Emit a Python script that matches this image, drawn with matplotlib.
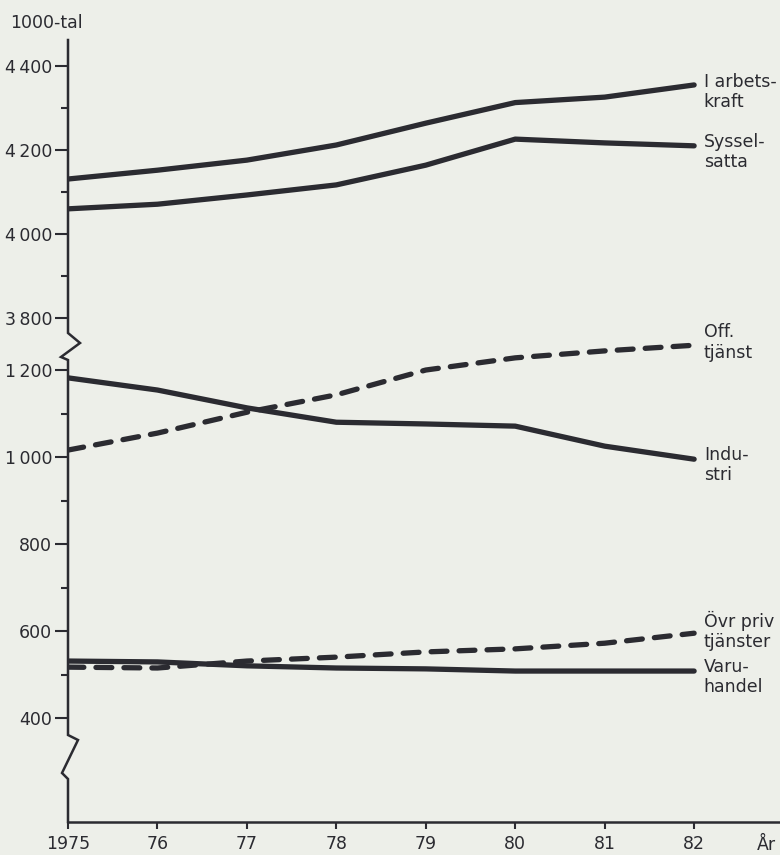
import numpy as np
import matplotlib
matplotlib.use("Agg")
import matplotlib.pyplot as plt

# ---- data (1000-tal) ----
years = [1975, 1976, 1977, 1978, 1979, 1980, 1981, 1982]
year_labels = ["1975", "76", "77", "78", "79", "80", "81", "82"]
arbetskraft = [4131, 4152, 4176, 4212, 4264, 4313, 4326, 4355]
sysselsatta = [4060, 4071, 4093, 4117, 4164, 4226, 4217, 4210]
off_tjanst = [1016, 1055, 1103, 1143, 1200, 1228, 1244, 1257]
industri = [1182, 1154, 1113, 1080, 1076, 1071, 1025, 995]
ovr_priv = [517, 515, 531, 540, 552, 559, 572, 595]
varuhandel = [531, 529, 520, 515, 513, 508, 508, 508]

ytick_major = [400, 600, 800, 1000, 1200, 3800, 4000, 4200, 4400]
ytick_labels = ["400", "600", "800", "1\u2009000", "1\u2009200",
                "3\u2009800", "4\u2009000", "4\u2009200", "4\u2009400"]
ytick_minor = [500, 700, 900, 1100, 3900, 4100, 4300]

BG = "#edefe9"
INK = "#2b2b31"
plt.rcParams["font.family"] = ["DejaVu Sans"]

# broken y-scale: linear lower part, compressed gap, linear upper part
XP = [-1e4, 1270, 3800, 1e4]
FP = [-1e4, 1270, 1319.5, 1319.5 + (1e4 - 3800) * 0.9655]


def fwd(v):
    return np.interp(v, XP, FP)


def inv(f):
    return np.interp(f, FP, XP)


fig = plt.figure(figsize=(7.8, 8.55), dpi=100, facecolor=BG)
L = 68 / 780
B = (855 - 822) / 855
T = (855 - 40) / 855
ax = fig.add_axes([L, B, 1 - L, T - B])
ax.set_facecolor(BG)
ax.patch.set_alpha(0)

ax.set_yscale("function", functions=(fwd, inv))
ax.set_ylim(161, 4462)
ax.set_xlim(1975, 1982.96)

solid = dict(color=INK, lw=3.8, solid_capstyle="round", solid_joinstyle="round")
dashed = dict(color=INK, lw=3.8, linestyle=(0, (3.0, 2.3)), dash_capstyle="round")

ax.plot(years, arbetskraft, **solid)
ax.plot(years, sysselsatta, **solid)
ax.plot(years, off_tjanst, **dashed)
ax.plot(years, industri, **solid)
ax.plot(years, ovr_priv, **dashed)
ax.plot(years, varuhandel, **solid)

# series labels at the right end
labels = [
    ("I arbets-\nkraft", arbetskraft[-1], -5),
    ("Syssel-\nsatta", sysselsatta[-1], -4.3),
    ("Off.\ntjänst", off_tjanst[-1], 2),
    ("Indu-\nstri", industri[-1], -4.3),
    ("Övr priv\ntjänster", ovr_priv[-1], 1.5),
    ("Varu-\nhandel", varuhandel[-1], -4.3),
]
for txt, val, dy in labels:
    ax.annotate(txt, xy=(years[-1], val), xytext=(7, dy),
                textcoords="offset points", ha="left", va="center",
                fontsize=12.5, color=INK, linespacing=1.15,
                annotation_clip=False)

# axes styling
for s in ["top", "right", "left"]:
    ax.spines[s].set_visible(False)
ax.spines["bottom"].set_color(INK)
ax.spines["bottom"].set_linewidth(1.8)

ax.set_yticks(ytick_major, ytick_labels)
ax.set_yticks(ytick_minor, minor=True)
ax.set_xticks(years, year_labels)
ax.tick_params(axis="y", which="major", direction="out", length=9.5, width=1.5,
               pad=2, labelsize=12.5, colors=INK)
ax.tick_params(axis="y", which="minor", direction="out", length=5, width=1.5,
               colors=INK)
ax.tick_params(axis="x", which="major", direction="out", length=5, width=1.5,
               pad=4, labelsize=12.5, colors=INK)

# left axis line with break zigzags (decoration, in axes fraction)
W = 712.0
H = 782.0
pts = [(0, 40), (0, 333), (12, 343), (-7, 357), (0, 360),
       (0, 735), (10, 740), (-6, 773), (0, 779), (0, 822)]
xs = [p[0] / W for p in pts]
ys = [(822 - p[1]) / H for p in pts]
ax.plot(xs, ys, transform=ax.transAxes, color=INK, lw=1.8, clip_on=False,
        solid_joinstyle="miter")

fig.text(10 / 780, 1 - 28 / 855, "1000-tal", fontsize=12.5, color=INK,
         ha="left", va="baseline")
fig.text(766 / 780, 1 - 845 / 855, "År", fontsize=12.5, color=INK,
         ha="center", va="center")

fig.savefig("out.png", dpi=100, facecolor=BG)
